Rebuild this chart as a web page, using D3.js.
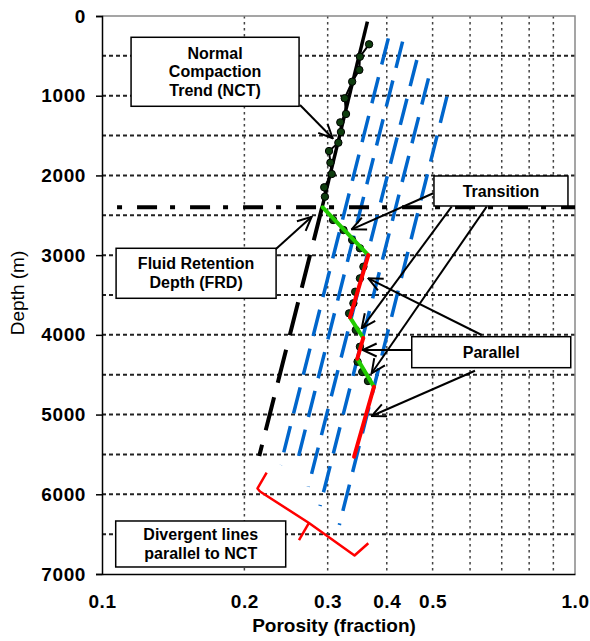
<!DOCTYPE html>
<html>
<head>
<meta charset="utf-8">
<script src="https://cdn.jsdelivr.net/npm/d3@7"></script>
<style>
  html, body { margin: 0; padding: 0; background: #fff; }
  svg { display: block; font-family: 'Liberation Sans', Arial, sans-serif; }
</style>
</head>
<body>
<script>
// Axis ticks and grid
const depthTicks = [0, 1000, 2000, 3000, 4000, 5000, 6000, 7000]
const depthGrid = [500, 1000, 1500, 2000, 2500, 3000, 3500, 4000, 4500, 5000, 5500, 6000, 6500]
const porosityTicks = [0.1, 0.2, 0.3, 0.4, 0.5, 1.0]
const porosityTickLabels = ['0.1', '0.2', '0.3', '0.4', '0.5', '1.0']
const porosityGrid = [0.2, 0.3, 0.4, 0.5, 0.6, 0.7, 0.8, 0.9]

// [porosity, depth] pairs
const measured = [
  [0.367, 355], [0.351, 511], [0.350, 677], [0.338, 824], [0.326, 1032],
  [0.328, 1229], [0.319, 1334], [0.320, 1455], [0.316, 1589], [0.302, 1694],
  [0.304, 1840], [0.306, 1982], [0.295, 2149], [0.296, 2267]
]
const measuredDeep = [
  [0.308, 2559], [0.324, 2685], [0.338, 2810], [0.351, 2914], [0.357, 3145],
  [0.351, 3291], [0.343, 3459], [0.340, 3604], [0.333, 3730], [0.344, 3939],
  [0.351, 4149], [0.347, 4337], [0.355, 4466], [0.365, 4579]
]
const nctSolid = [[0.364, 70], [0.292, 2400]]
const nctDashed = [[0.292, 2400], [0.215, 5520]]
const frdDepth = 2400
const frdRange = [0.1076, 1.0]

// divergent lines parallel to NCT (top, bottom)
const divergentLines = [
  [[0.403, 280], [0.2385, 5633]],
  [[0.432, 322], [0.257, 5658]],
  [[0.463, 552], [0.273, 5905]],
  [[0.490, 782], [0.289, 6147]],
  [[0.536, 1012], [0.3175, 6385]]
]

// transition (green) and parallel (red) segments
const transitionSegs = [
  [[0.2928, 2400], [0.3656, 3000]],
  [[0.3344, 3780], [0.3567, 4040]],
  [[0.3465, 4300], [0.3758, 4650]]
]
const parallelSegs = [
  [[0.3656, 3000], [0.3344, 3780]],
  [[0.3567, 4040], [0.3465, 4300]],
  [[0.3758, 4650], [0.3411, 5530]]
]

// curly bracket below the divergent lines
const bracketArms = [
  [[0.2229, 5729], [0.2132, 5927], [0.2158, 5965], [0.2739, 6360], [0.3419, 6768], [0.3656, 6615]],
  [[0.2739, 6360], [0.2609, 6574]]
]

// annotation boxes: left porosity, top depth, size in px
const boxes = [
  { lines: ['Normal', 'Compaction', 'Trend (NCT)'], phi: 0.1152, depth: 267, w: 168, h: 69 },
  { lines: ['Transition'], phi: 0.5033, depth: 2007, w: 134, h: 30 },
  { lines: ['Parallel'], phi: 0.4517, depth: 4023, w: 159, h: 31 },
  { lines: ['Fluid Retention', 'Depth (FRD)'], phi: 0.1071, depth: 2914, w: 160, h: 50 },
  { lines: ['Divergent lines', 'parallel to NCT'], phi: 0.1069, depth: 6335, w: 170, h: 46 }
]
const arrows = [
  [[0.2622, 1117], [0.3074, 1534]],
  [[0.2329, 2927], [0.2775, 2518]],
  [[0.5016, 2224], [0.3372, 2676]],
  [[0.5486, 2392], [0.3540, 3918]],
  [[0.6506, 2392], [0.3716, 4482]],
  [[0.6349, 4002], [0.3656, 3291]],
  [[0.4517, 4190], [0.3557, 4190]],
  [[0.6146, 4450], [0.3716, 5018]]
]

const width = 590
const height = 641
const margin = { top: 16, right: 15, bottom: 67, left: 102 }
const chartWidth = width - margin.left - margin.right
const chartHeight = height - margin.top - margin.bottom

const svg = d3.select('body').append('svg')
  .attr('width', width)
  .attr('height', height)

const g = svg.append('g')
  .attr('transform', `translate(${margin.left}, ${margin.top})`)

const x = d3.scaleLog().domain([0.1, 1]).range([0, chartWidth])
const y = d3.scaleLinear().domain([0, 7000]).range([0, chartHeight])
const line = d3.line().x(d => x(d[0])).y(d => y(d[1]))

// Grid
g.selectAll('.hgrid')
  .data(depthGrid)
  .join('line')
  .attr('x1', 0).attr('x2', chartWidth)
  .attr('y1', d => y(d)).attr('y2', d => y(d))
  .attr('stroke', '#222')
  .attr('stroke-width', 2)
  .attr('stroke-dasharray', '4,3')

g.selectAll('.vgrid')
  .data(porosityGrid)
  .join('line')
  .attr('x1', d => x(d)).attr('x2', d => x(d))
  .attr('y1', 0).attr('y2', chartHeight)
  .attr('stroke', '#444')
  .attr('stroke-width', 1.5)
  .attr('stroke-dasharray', '2.5,3.5')

// Frame (top and right)
g.append('path')
  .attr('d', `M0,0H${chartWidth}V${chartHeight}`)
  .attr('fill', 'none')
  .attr('stroke', '#888')
  .attr('stroke-width', 1.5)

// Y axis
const yAxis = g.append('g')
  .call(d3.axisLeft(y).tickValues(depthTicks).tickSize(6).tickPadding(10).tickFormat(d3.format('d')))
yAxis.selectAll('text')
  .attr('font-family', "'Liberation Sans', Arial, sans-serif")
  .attr('font-size', 19)
  .attr('font-weight', 'bold')
  .attr('letter-spacing', 0.6)
  .attr('fill', '#000')

// X axis
const xAxis = g.append('g')
  .attr('transform', `translate(0, ${chartHeight})`)
  .call(d3.axisBottom(x).tickValues(porosityTicks).tickSize(0).tickPadding(21)
    .tickFormat((d, i) => porosityTickLabels[i]))
xAxis.selectAll('text')
  .attr('font-family', "'Liberation Sans', Arial, sans-serif")
  .attr('font-size', 19)
  .attr('font-weight', 'bold')
  .attr('letter-spacing', 0.6)
  .attr('fill', '#000')

svg.selectAll('.domain, .tick line')
  .attr('stroke', '#000')
  .attr('stroke-width', 1.5)

// Axis labels
svg.append('text')
  .attr('transform', `translate(24, 293) rotate(-90)`)
  .attr('text-anchor', 'middle')
  .attr('font-size', 19)
  .attr('fill', '#000')
  .text('Depth (m)')

svg.append('text')
  .attr('x', 334)
  .attr('y', 632)
  .attr('text-anchor', 'middle')
  .attr('font-size', 19)
  .attr('font-weight', 'bold')
  .attr('fill', '#000')
  .text('Porosity (fraction)')

// Divergent blue lines
g.selectAll('.divergent')
  .data(divergentLines)
  .join('path')
  .attr('d', line)
  .attr('fill', 'none')
  .attr('stroke', '#0066CC')
  .attr('stroke-width', 3.5)
  .attr('stroke-dasharray', '27,13')

// NCT
g.append('path')
  .attr('d', line(nctDashed))
  .attr('fill', 'none')
  .attr('stroke', '#000')
  .attr('stroke-width', 4)
  .attr('stroke-dasharray', '34,15')

g.append('path')
  .attr('d', line(nctSolid))
  .attr('fill', 'none')
  .attr('stroke', '#000')
  .attr('stroke-width', 3.5)

// FRD dash-dot line
g.append('line')
  .attr('x1', x(frdRange[0])).attr('x2', x(frdRange[1]))
  .attr('y1', y(frdDepth)).attr('y2', y(frdDepth))
  .attr('stroke', '#000')
  .attr('stroke-width', 4)
  .attr('stroke-dasharray', '5,15,20,13')

// Measured points
g.append('path')
  .attr('d', line(measured))
  .attr('fill', 'none')
  .attr('stroke', '#000')
  .attr('stroke-width', 2)

g.selectAll('.pt')
  .data(measured.concat(measuredDeep))
  .join('circle')
  .attr('cx', d => x(d[0]))
  .attr('cy', d => y(d[1]))
  .attr('r', 3.7)
  .attr('fill', '#0f3d0f')
  .attr('stroke', '#000')
  .attr('stroke-width', 1)

// Transition / parallel segments
g.selectAll('.trans')
  .data(transitionSegs)
  .join('path')
  .attr('d', line)
  .attr('stroke', '#22CC00')
  .attr('stroke-width', 4)
  .attr('stroke-linecap', 'round')

g.selectAll('.par')
  .data(parallelSegs)
  .join('path')
  .attr('d', line)
  .attr('stroke', '#FF0000')
  .attr('stroke-width', 4)
  .attr('stroke-linecap', 'round')

// Bracket
g.selectAll('.bracket')
  .data(bracketArms)
  .join('path')
  .attr('d', line)
  .attr('fill', 'none')
  .attr('stroke', '#FF0000')
  .attr('stroke-width', 2.5)
  .attr('stroke-linejoin', 'round')

// Arrow marker
svg.append('defs').append('marker')
  .attr('id', 'head')
  .attr('viewBox', '0 0 16 16')
  .attr('refX', 15)
  .attr('refY', 8)
  .attr('markerWidth', 16)
  .attr('markerHeight', 16)
  .attr('markerUnits', 'userSpaceOnUse')
  .attr('orient', 'auto')
  .append('path')
  .attr('d', 'M1,1.5 L15,8 L1,14.5')
  .attr('fill', 'none')
  .attr('stroke', '#000')
  .attr('stroke-width', 2)

// Annotation boxes
const box = g.selectAll('.box')
  .data(boxes)
  .join('g')
  .attr('transform', d => `translate(${x(d.phi)}, ${y(d.depth)})`)

box.append('rect')
  .attr('width', d => d.w)
  .attr('height', d => d.h)
  .attr('fill', '#fff')
  .attr('stroke', '#000')
  .attr('stroke-width', 1.5)

box.each(function (d) {
  const n = d.lines.length
  d3.select(this).selectAll('text')
    .data(d.lines)
    .join('text')
    .attr('x', d.w / 2)
    .attr('y', (t, i) => d.h / 2 + (i - (n - 1) / 2) * 18.8 + 5.6)
    .attr('text-anchor', 'middle')
    .attr('font-size', 16)
    .attr('font-weight', 'bold')
    .attr('fill', '#000')
    .text(t => t)
})

// Arrows
g.selectAll('.arrow')
  .data(arrows)
  .join('path')
  .attr('d', line)
  .attr('fill', 'none')
  .attr('stroke', '#000')
  .attr('stroke-width', 2)
  .attr('marker-end', 'url(#head)')
</script>
</body>
</html>
